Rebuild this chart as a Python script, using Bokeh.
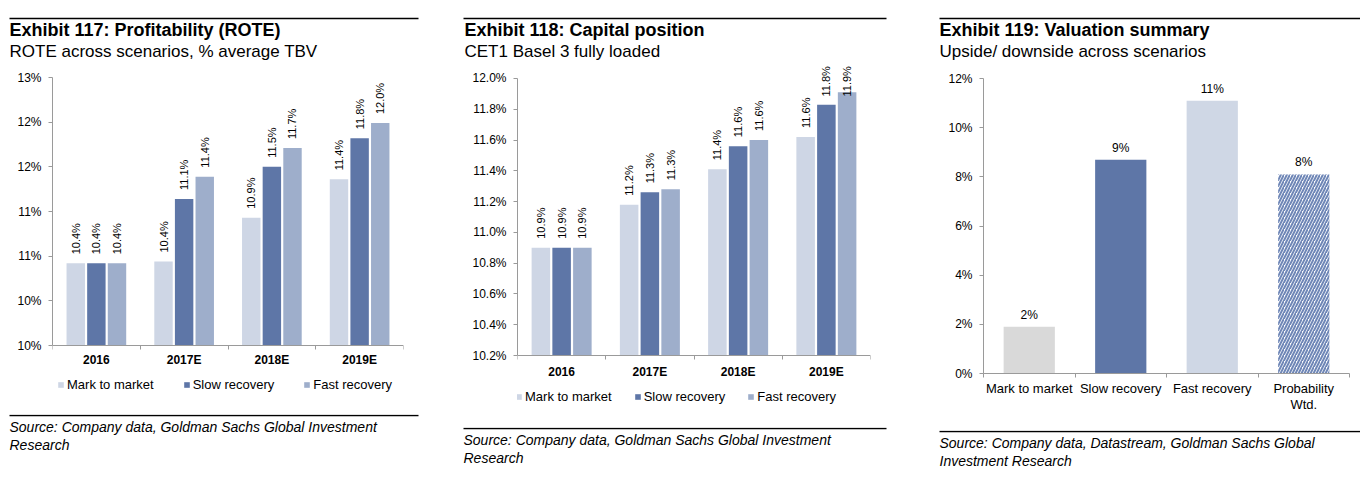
import numpy as np
from bokeh.plotting import figure
from bokeh.layouts import row, column
from bokeh.models import (ColumnDataSource, Range1d, FixedTicker, Legend, LegendItem)
from bokeh.core.properties import value
from bokeh.transform import dodge
from bokeh.embed import file_html
from bokeh.resources import INLINE

FONT = "Liberation Sans"

# ---------------- data ----------------
years = ["2016", "2017E", "2018E", "2019E"]
scenarios = ["Mark to market", "Slow recovery", "Fast recovery"]

rote_mark_to_market = [10.42, 10.44, 10.93, 11.36]
rote_slow_recovery = [10.42, 11.14, 11.50, 11.82]
rote_fast_recovery = [10.42, 11.39, 11.71, 11.99]
rote_ticks = [9.5, 10.0, 10.5, 11.0, 11.5, 12.0, 12.5]
rote_tick_labels = ["10%", "10%", "11%", "11%", "12%", "12%", "13%"]

cet1_mark_to_market = [10.90, 11.18, 11.41, 11.62]
cet1_slow_recovery = [10.90, 11.26, 11.56, 11.83]
cet1_fast_recovery = [10.90, 11.28, 11.60, 11.91]
cet1_ticks = [10.2, 10.4, 10.6, 10.8, 11.0, 11.2, 11.4, 11.6, 11.8, 12.0]
cet1_tick_labels = ["10.2%", "10.4%", "10.6%", "10.8%", "11.0%", "11.2%",
                    "11.4%", "11.6%", "11.8%", "12.0%"]

valuation_scenarios = ["Mark to market", "Slow recovery", "Fast recovery", "Probability\nWtd."]
valuation_upside = [1.9, 8.7, 11.1, 8.1]
valuation_ticks = [0, 2, 4, 6, 8, 10, 12]
valuation_tick_labels = ["0%", "2%", "4%", "6%", "8%", "10%", "12%"]

titles = ["Exhibit 117: Profitability (ROTE)", "Exhibit 118: Capital position",
          "Exhibit 119: Valuation summary"]
subtitles = ["ROTE across scenarios, % average TBV", "CET1 Basel 3 fully loaded",
             "Upside/ downside across scenarios"]
sources = [["Source:  Company data, Goldman Sachs Global Investment", "Research"],
           ["Source:  Company data, Goldman Sachs Global Investment", "Research"],
           ["Source:  Company data, Datastream, Goldman Sachs Global", "Investment Research"]]

# ---------------- styles ----------------
C_MTM = "#CED6E5"
C_SLOW = "#5E76A7"
C_FAST = "#9EAECB"
AXIS_C = "#9A9A9A"
VAL_COLORS = ["#D9D9D9", "#5E76A7", "#CFD7E5", "#FFFFFF"]
VAL_HATCH = [" ", " ", " ", "/"]
HEADER_H = 61
PAGE_H = 470
MID = 0.3465  # em distance between alphabetic baseline and text middle


def no_align(p):
    try:
        p.frame_align = False
    except Exception:
        pass


def plain_fig(w, h):
    p = figure(width=w, height=h, frame_width=w, frame_height=h,
               x_range=Range1d(0, w), y_range=Range1d(0, h),
               output_backend="svg", toolbar_location=None, min_border=0,
               x_axis_type=None, y_axis_type=None, outline_line_color=None)
    no_align(p)
    return p


def header(idx, w, x_text, r0, r1):
    p = plain_fig(w, HEADER_H)
    p.segment(x0=[r0], y0=[HEADER_H - 18], x1=[r1], y1=[HEADER_H - 18],
              line_color="black", line_width=1.3)
    p.text(x=[x_text], y=[HEADER_H - (36 - MID * 18)], text=[titles[idx]], text_font=value(FONT),
           text_font_size="18px", text_font_style="bold", text_baseline="middle",
           text_color="black")
    p.text(x=[x_text], y=[HEADER_H - (56.5 - MID * 17)], text=[subtitles[idx]],
           text_font=value(FONT), text_font_size="17px", text_baseline="middle",
           text_color="black")
    return p


def footer(idx, w, top, x_text, r0, r1, rule_y):
    h = PAGE_H - top
    p = plain_fig(w, h)
    ry = h - (rule_y - top)
    p.segment(x0=[r0], y0=[ry], x1=[r1], y1=[ry], line_color="black", line_width=1.3)
    lines = sources[idx]
    p.text(x=[x_text] * len(lines),
           y=[ry - 16 - 18 * i + MID * 14 for i in range(len(lines))], text=lines,
           text_font=value(FONT), text_font_size="14px", text_font_style="italic",
           text_baseline="middle", text_color="black")
    return p


def chart_fig(w, fl, fr, ft, fb, h, y_start, y_end, nx):
    p = figure(width=w, height=h, frame_width=fr - fl, frame_height=fb - ft,
               x_range=Range1d(0, nx), y_range=Range1d(y_start, y_end),
               output_backend="svg", toolbar_location=None, outline_line_color=None,
               min_border_left=fl, min_border_right=w - fr, min_border_top=0,
               min_border_bottom=h - (fb - ft))
    no_align(p)
    p.xgrid.visible = False
    p.ygrid.visible = False
    return p


def style_axes(p, yticks, ylabels, xcenters, xlabels, xfont_size, xfont_style, xstandoff,
               x_fixed):
    yax = p.yaxis[0]
    yax.ticker = FixedTicker(ticks=yticks)
    yax.major_label_overrides = {t: l for t, l in zip(yticks, ylabels)}
    yax.bounds = (yticks[0], yticks[-1])
    yax.axis_line_color = AXIS_C
    yax.major_tick_line_color = AXIS_C
    yax.major_tick_out = 4
    yax.major_tick_in = 0
    yax.minor_tick_line_color = None
    yax.major_label_standoff = 7
    yax.major_label_text_font = FONT
    yax.major_label_text_font_size = "12px"
    yax.major_label_text_color = "black"

    xax = p.xaxis[0]
    xax.ticker = FixedTicker(ticks=xcenters, minor_ticks=list(range(len(xcenters) + 1)))
    xax.major_label_overrides = {t: l for t, l in zip(xcenters, xlabels)}
    if x_fixed:
        xax.fixed_location = yticks[0]
    xax.axis_line_color = AXIS_C
    xax.major_tick_line_color = None
    xax.major_tick_out = 0
    xax.major_tick_in = 0
    xax.minor_tick_line_color = AXIS_C
    xax.minor_tick_out = 4
    xax.minor_tick_in = 0
    xax.major_label_standoff = xstandoff
    xax.major_label_text_font = FONT
    xax.major_label_text_font_size = xfont_size
    xax.major_label_text_font_style = xfont_style
    xax.major_label_text_color = "black"
    xax.major_label_text_line_height = 1.1


def grouped_chart(p, y0, px_per_unit, axis_px, yticks, ylabels, mtm, slow, fast,
                  leg_loc, leg_spacing, xstandoff):
    centers = [i + 0.5 for i in range(len(years))]

    def offsets(vals):
        # keep rotated labels (about 31px long) inside the chart area
        out = []
        for v in vals:
            top_px = axis_px - (v - y0) * px_per_unit
            out.append(max(-9.0, 65 + 31 - top_px))
        return out

    src = ColumnDataSource(dict(
        x=centers, mtm=mtm, slow=slow, fast=fast,
        mtm_lbl=["%.1f%%" % v for v in mtm],
        slow_lbl=["%.1f%%" % v for v in slow],
        fast_lbl=["%.1f%%" % v for v in fast],
        mtm_off=offsets(mtm), slow_off=offsets(slow), fast_off=offsets(fast)))
    rs = []
    for off, col, c in [(-0.235, "mtm", C_MTM), (0.0, "slow", C_SLOW), (0.235, "fast", C_FAST)]:
        r = p.vbar(x=dodge("x", off), top=col, bottom=y0, width=0.21, source=src,
                   fill_color=c, line_color=None)
        rs.append(r)
        p.text(x=dodge("x", off), y=col, text=col + "_lbl", source=src, angle=np.pi / 2,
               text_align="left", text_baseline="middle", y_offset=col + "_off",
               text_font=value(FONT), text_font_size="11px", text_color="black")
    style_axes(p, yticks, ylabels, centers, years, "12px", "bold", xstandoff, True)
    legend = Legend(items=[LegendItem(label=s, renderers=[r]) for s, r in zip(scenarios, rs)],
                    orientation="horizontal", location=leg_loc, padding=0, margin=0,
                    spacing=leg_spacing, glyph_width=7, glyph_height=7, label_standoff=3,
                    label_height=14, label_text_font=FONT, label_text_font_size="13px",
                    label_text_color="black", border_line_color=None, background_fill_alpha=0)
    p.add_layout(legend)


# ---------------- panel 1 ----------------
W1 = 458
h1 = header(0, W1, 9, 9, 418)
# frame 52..403 x 61..392 ; 9.5 at y=345, 89.33 px per unit
p1 = chart_fig(W1, 52, 403, 61, 392, 353, 9.5 - 47 / 89.33, 9.5 + 284 / 89.33, 4)
grouped_chart(p1, 9.5, 89.33, 345, rote_ticks, rote_tick_labels,
              rote_mark_to_market, rote_slow_recovery, rote_fast_recovery, (5, 0), 29, 3)
f1 = footer(0, W1, 414, 9, 9, 418, 415)

# ---------------- panel 2 ----------------
W2 = 472
h2 = header(1, W2, 6, 5, 428)
# frame 59..412 (page 517..870) x 61..404 ; 10.2 at y=355, 153.9 px per unit
p2 = chart_fig(W2, 59, 412, 61, 404, 366, 10.2 - 49 / 153.9, 10.2 + 294 / 153.9, 4)
grouped_chart(p2, 10.2, 153.9, 355, cet1_ticks, cet1_tick_labels,
              cet1_mark_to_market, cet1_slow_recovery, cet1_fast_recovery, (-2, 0), 22, 5)
f2 = footer(1, W2, 427, 5, 5, 428, 428)

# ---------------- panel 3 ----------------
W3 = 430
h3 = header(2, W3, 9, 9, 430)
# frame 53..419 (page 983..1349) x 61..373
p3 = chart_fig(W3, 53, 419, 61, 373, 369, 0, 312 / 24.583, 4)
centers3 = [i + 0.5 for i in range(len(valuation_scenarios))]
src3 = ColumnDataSource(dict(x=centers3, top=valuation_upside,
                             lbl=["%.0f%%" % v for v in valuation_upside],
                             color=VAL_COLORS, hatch=VAL_HATCH))
p3.vbar(x="x", top="top", bottom=0, width=0.56, source=src3, fill_color="color",
        line_color=None, hatch_pattern="hatch", hatch_color="#6F87B7", hatch_scale=6,
        hatch_weight=2)
p3.text(x="x", y="top", text="lbl", source=src3, text_align="center", text_baseline="bottom",
        y_offset=-5, text_font=value(FONT), text_font_size="12px", text_color="black")
style_axes(p3, valuation_ticks, valuation_tick_labels, centers3, valuation_scenarios,
           "13px", "normal", 3, False)
f3 = footer(2, W3, 430, 9, 9, 430, 431)

layout = row(column(h1, p1, f1), column(h2, p2, f2), column(h3, p3, f3))
open("out.html", "w").write(file_html(layout, INLINE))
